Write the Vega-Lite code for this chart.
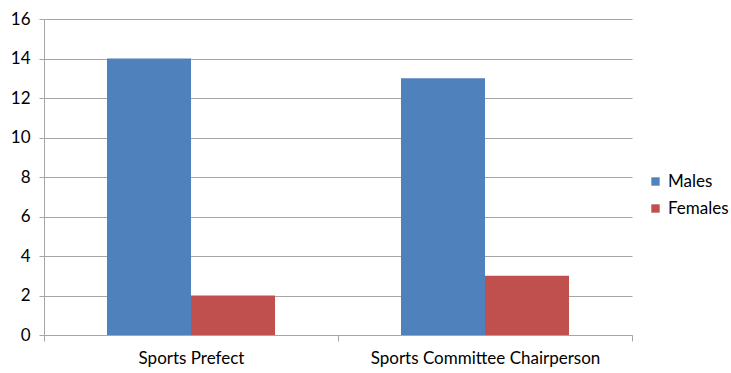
{
  "$schema": "https://vega.github.io/schema/vega-lite/v6.json",
  "width": 588,
  "height": 316,
  "autosize": {"type": "none"},
  "padding": {"left": 44, "top": 19, "right": 99, "bottom": 38},
  "background": "white",
  "config": {
    "view": {"stroke": null},
    "font": "Lato"
  },
  "data": {
    "values": [
      {"role": "Sports Prefect", "gender": "Males", "count": 14},
      {"role": "Sports Prefect", "gender": "Females", "count": 2},
      {"role": "Sports Committee Chairperson", "gender": "Males", "count": 13},
      {"role": "Sports Committee Chairperson", "gender": "Females", "count": 3}
    ]
  },
  "mark": {"type": "bar"},
  "encoding": {
    "x": {
      "field": "role",
      "type": "nominal",
      "sort": ["Sports Prefect", "Sports Committee Chairperson"],
      "scale": {"paddingInner": 0, "paddingOuter": 0},
      "axis": {
        "title": null,
        "labelAngle": 0,
        "tickBand": "extent",
        "grid": false,
        "domainColor": "#A6A6A6",
        "tickColor": "#A6A6A6",
        "tickSize": 6,
        "labelFont": "Lato",
        "labelFontSize": 17,
        "labelLimit": 0,
        "labelColor": "#000000",
        "labelPadding": 9
      }
    },
    "xOffset": {
      "field": "gender",
      "type": "nominal",
      "sort": ["Males", "Females"],
      "scale": {"paddingInner": 0, "paddingOuter": 0.75}
    },
    "y": {
      "field": "count",
      "type": "quantitative",
      "scale": {"domain": [0, 16], "nice": false},
      "axis": {
        "title": null,
        "values": [0, 2, 4, 6, 8, 10, 12, 14, 16],
        "grid": true,
        "gridColor": "#A6A6A6",
        "domainColor": "#A6A6A6",
        "tickColor": "#A6A6A6",
        "tickSize": 5,
        "labelFont": "Lato",
        "labelFontSize": 17,
        "labelColor": "#000000",
        "labelPadding": 9
      }
    },
    "color": {
      "field": "gender",
      "type": "nominal",
      "sort": ["Males", "Females"],
      "scale": {"domain": ["Males", "Females"], "range": ["#4F81BD", "#C0504D"]},
      "legend": {
        "title": null,
        "orient": "none",
        "legendX": 603,
        "legendY": 154,
        "symbolType": "square",
        "symbolSize": 70,
        "symbolStrokeWidth": 0,
        "labelFont": "Lato",
        "labelFontSize": 17,
        "labelColor": "#000000",
        "rowPadding": 9,
        "labelOffset": 4
      }
    }
  }
}
